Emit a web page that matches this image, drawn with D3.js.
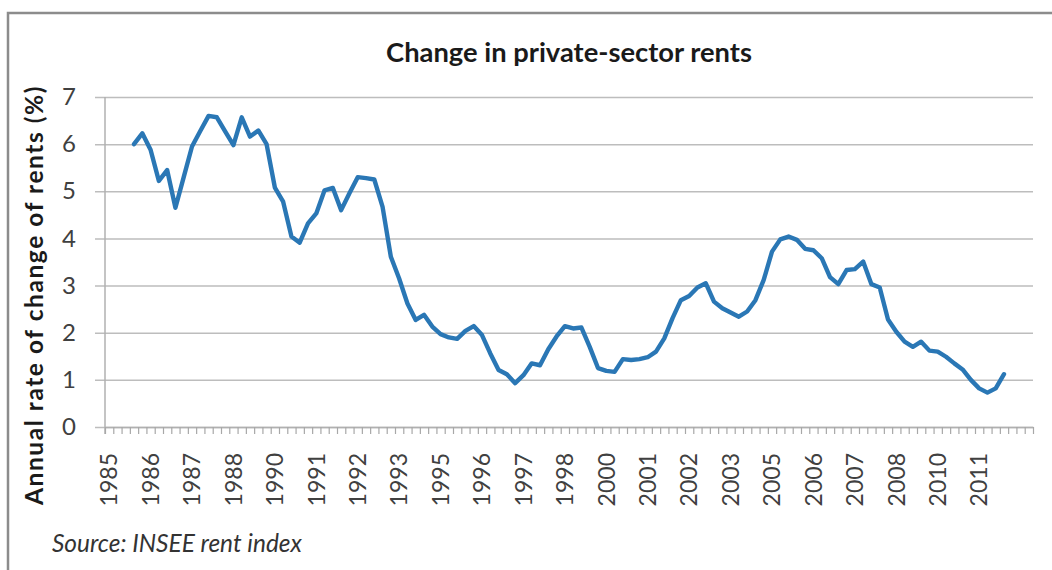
<!DOCTYPE html>
<html lang="en">
<head>
  <meta charset="UTF-8">
  <title>Change in private-sector rents</title>
  <script src="https://d3js.org/d3.v7.min.js"></script>
  <style>
    body { margin: 0; background: #fff; }
    svg { display: block; font-family: Lato, "Open Sans", sans-serif; }
  </style>
</head>
<body>
  <svg id="chart"></svg>
  <script>
    // quarterly categories, 1985 Q1 .. 2012 Q4
    const quarterCount = 112;
    const tickEvery = 5;
    const tickLabels = ["1985", "1986", "1987", "1988", "1990", "1991", "1992", "1993",
      "1995", "1996", "1997", "1998", "2000", "2001", "2002", "2003",
      "2005", "2006", "2007", "2008", "2010", "2011"];
    const yTicks = [0, 1, 2, 3, 4, 5, 6, 7];

    // annual rate of change, first value is quarter index 3 (1985 Q4)
    const firstQuarter = 3;
    const rents = [
      6.0, 6.23, 5.88, 5.22, 5.45, 4.65, 5.3, 5.95, 6.28, 6.6,
      6.57, 6.27, 5.98, 6.57, 6.16, 6.29, 6.0, 5.08, 4.78, 4.04,
      3.91, 4.32, 4.53, 5.02, 5.07, 4.6, 4.96, 5.3, 5.28, 5.25,
      4.67, 3.61, 3.15, 2.62, 2.27, 2.38, 2.13, 1.97, 1.9, 1.87,
      2.04, 2.14, 1.95, 1.56, 1.21, 1.12, 0.93, 1.1, 1.35, 1.31,
      1.65, 1.92, 2.14, 2.09, 2.11, 1.7, 1.25, 1.19, 1.17, 1.44,
      1.42, 1.44, 1.48, 1.6, 1.88, 2.31, 2.69, 2.78, 2.96, 3.05,
      2.66, 2.52, 2.43, 2.34, 2.45, 2.69, 3.12, 3.72, 3.98, 4.04,
      3.97, 3.78, 3.75, 3.58, 3.18, 3.03, 3.33, 3.35, 3.51, 3.03,
      2.96, 2.28, 2.02, 1.81, 1.7, 1.81, 1.62, 1.6, 1.49, 1.35,
      1.22, 1.0, 0.82, 0.73, 0.82, 1.12
    ];

    const width = 1052, height = 570;
    const plot = { left: 105, right: 1033, top: 97, bottom: 427 };

    const svg = d3.select("#chart").attr("width", width).attr("height", height);

    // chart frame
    svg.append("rect")
      .attr("x", 8).attr("y", 13)
      .attr("width", 1100).attr("height", 600)
      .attr("fill", "#fff")
      .attr("stroke", "#8c8c8c")
      .attr("stroke-width", 2.5);

    const x = d3.scaleBand()
      .domain(d3.range(quarterCount))
      .range([plot.left, plot.right]);

    const xEdges = d3.scaleLinear()
      .domain([0, quarterCount])
      .range([plot.left, plot.right]);

    const y = d3.scaleLinear()
      .domain([0, 7])
      .range([plot.bottom, plot.top]);

    // horizontal gridlines
    const grid = svg.append("g")
      .attr("transform", `translate(${plot.left - 10},0)`)
      .call(d3.axisRight(y).tickValues(yTicks).tickSize(plot.right - plot.left + 10).tickFormat(""));
    grid.select(".domain").remove();
    grid.selectAll("line").attr("stroke", "#bdbdbd").attr("stroke-width", 1.5);

    // y axis
    const yAxis = svg.append("g")
      .attr("transform", `translate(${plot.left},0)`)
      .call(d3.axisLeft(y).tickValues(yTicks).tickSize(0).tickPadding(29).tickFormat(d3.format("d")));
    yAxis.select(".domain").remove();
    yAxis.selectAll("text")
      .attr("font-size", 24)
      .attr("font-family", "Lato, sans-serif")
      .attr("fill", "#404040");

    svg.append("line")
      .attr("x1", plot.left).attr("x2", plot.left)
      .attr("y1", plot.top).attr("y2", plot.bottom + 7)
      .attr("stroke", "#b0b0b0").attr("stroke-width", 1.5);

    // x axis minor ticks on category edges
    const xTicks = svg.append("g")
      .attr("transform", `translate(0,${plot.bottom})`)
      .call(d3.axisBottom(xEdges).tickValues(d3.range(quarterCount + 1)).tickSizeInner(7).tickSizeOuter(0).tickFormat(""));
    xTicks.select(".domain").attr("stroke", "#b0b0b0").attr("stroke-width", 1.5);
    xTicks.selectAll("line").attr("stroke", "#a8a8a8").attr("stroke-width", 1.2);

    // x labels, one every five quarters
    const labelIdx = tickLabels.map((d, i) => i * tickEvery);
    const xAxis = svg.append("g")
      .attr("transform", `translate(0,${plot.bottom + 26})`)
      .call(d3.axisBottom(x).tickValues(labelIdx).tickSize(0).tickFormat((d, i) => tickLabels[i]));
    xAxis.select(".domain").remove();
    xAxis.selectAll("text")
      .attr("font-size", 23)
      .attr("font-family", "Lato, sans-serif")
      .attr("fill", "#404040")
      .attr("transform", "rotate(-90)")
      .attr("text-anchor", "end")
      .attr("x", 0)
      .attr("y", 0)
      .attr("dy", "0.36em");

    // series line
    const line = d3.line()
      .x((d, i) => x(firstQuarter + i) + x.bandwidth() / 2)
      .y(d => y(d))
      .curve(d3.curveLinear);

    svg.append("path")
      .datum(rents)
      .attr("d", line)
      .attr("fill", "none")
      .attr("stroke", "#2a77b5")
      .attr("stroke-width", 4.4)
      .attr("stroke-linejoin", "round")
      .attr("stroke-linecap", "round");

    // scale font size so a text reaches a target width
    function fitSize(sel, target) {
      const w = sel.node().getComputedTextLength();
      sel.attr("font-size", +sel.attr("font-size") * target / w);
    }
    // stretch a text to a target width with letter spacing
    function fitSpacing(sel, target) {
      const w = sel.node().getComputedTextLength();
      sel.attr("letter-spacing", (target - w) / sel.text().length);
    }

    const title = svg.append("text")
      .attr("x", 569).attr("y", 62)
      .attr("text-anchor", "middle")
      .attr("font-size", 22)
      .attr("font-weight", "bold")
      .attr("fill", "#1a1a1a")
      .text("Change in private-sector rents");
    fitSize(title, 366);

    const yTitle = svg.append("text")
      .attr("transform", "translate(43,295) rotate(-90)")
      .attr("text-anchor", "middle")
      .attr("font-size", 24.5)
      .attr("font-weight", "bold")
      .attr("fill", "#1a1a1a")
      .text("Annual rate of change of rents (%)");
    fitSpacing(yTitle, 420);

    const source = svg.append("text")
      .attr("x", 52).attr("y", 552)
      .attr("font-size", 21)
      .attr("font-style", "italic")
      .attr("fill", "#333")
      .text("Source: INSEE rent index");
    fitSize(source, 250);
  </script>
</body>
</html>
